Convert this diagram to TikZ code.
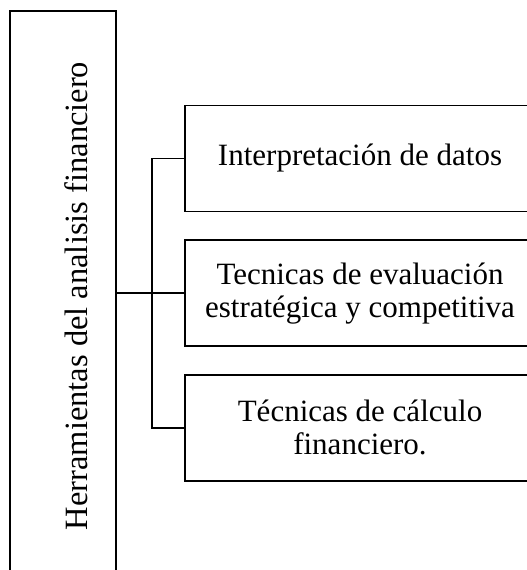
\documentclass[tikz,border=0pt]{standalone}
\usepackage{fontspec}
\setmainfont{Liberation Serif}
\usetikzlibrary{positioning}

\begin{document}
\begin{tikzpicture}[x=1pt,y=-1pt,line width=1.6pt,node distance=27pt,
  item/.style={draw,minimum width=350pt,minimum height=106pt,align=center,
    inner sep=0pt,font=\fontsize{31}{33}\selectfont}]
\useasboundingbox (0,0) rectangle (527,570);

\node[draw,minimum width=106pt,minimum height=570pt,inner sep=0pt] (main) at (63,296) {};
\node[rotate=90,inner sep=0pt,font=\fontsize{32.5}{36}\selectfont] (title) at ([xshift=13pt]main.center) {Herramientas del analisis financiero};

\node[item] (interp) at (360,158.5) {Interpretación de datos};
\node[item] (estrat) [below=of interp] {Tecnicas de evaluación\\estratégica y competitiva};
\node[item] (calc) [below=of estrat] {Técnicas de cálculo\\financiero.};

\coordinate (split) at (152,291);

\draw (interp.west) -| (split) |- (calc.west);
\draw (main.east |- estrat.west) -- (estrat.west);
\end{tikzpicture}
\end{document}
